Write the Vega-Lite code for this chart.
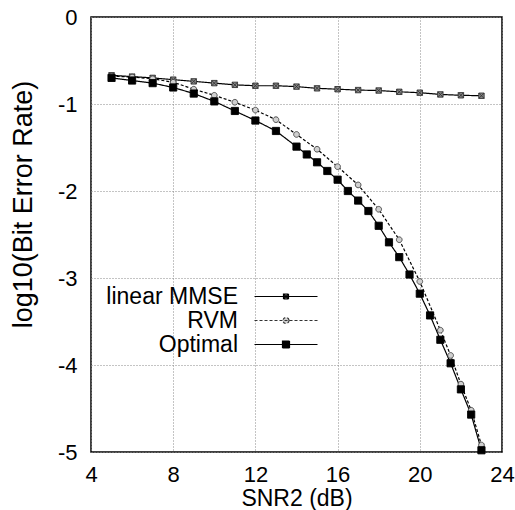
{
  "$schema": "https://vega.github.io/schema/vega-lite/v6.json",
  "width": 411,
  "height": 435,
  "autosize": {"type": "none"},
  "padding": {"left": 91, "top": 17, "right": 13, "bottom": 58},
  "background": "white",
  "config": {
    "view": {"stroke": "black", "strokeWidth": 1.5},
    "font": "Liberation Sans"
  },
  "data": {
    "values": [
      {"series": "linear MMSE", "snr": 5, "ber": -0.67},
      {"series": "linear MMSE", "snr": 6, "ber": -0.685},
      {"series": "linear MMSE", "snr": 7, "ber": -0.7},
      {"series": "linear MMSE", "snr": 8, "ber": -0.72},
      {"series": "linear MMSE", "snr": 9, "ber": -0.74},
      {"series": "linear MMSE", "snr": 10, "ber": -0.76},
      {"series": "linear MMSE", "snr": 11, "ber": -0.78},
      {"series": "linear MMSE", "snr": 12, "ber": -0.79},
      {"series": "linear MMSE", "snr": 13, "ber": -0.79},
      {"series": "linear MMSE", "snr": 14, "ber": -0.8},
      {"series": "linear MMSE", "snr": 15, "ber": -0.82},
      {"series": "linear MMSE", "snr": 16, "ber": -0.83},
      {"series": "linear MMSE", "snr": 17, "ber": -0.84},
      {"series": "linear MMSE", "snr": 18, "ber": -0.845},
      {"series": "linear MMSE", "snr": 19, "ber": -0.86},
      {"series": "linear MMSE", "snr": 20, "ber": -0.87},
      {"series": "linear MMSE", "snr": 21, "ber": -0.89},
      {"series": "linear MMSE", "snr": 22, "ber": -0.9},
      {"series": "linear MMSE", "snr": 23, "ber": -0.905},
      {"series": "RVM", "snr": 5, "ber": -0.68},
      {"series": "RVM", "snr": 6, "ber": -0.69},
      {"series": "RVM", "snr": 7, "ber": -0.71},
      {"series": "RVM", "snr": 8, "ber": -0.75},
      {"series": "RVM", "snr": 9, "ber": -0.83},
      {"series": "RVM", "snr": 10, "ber": -0.9},
      {"series": "RVM", "snr": 11, "ber": -0.98},
      {"series": "RVM", "snr": 12, "ber": -1.07},
      {"series": "RVM", "snr": 13, "ber": -1.18},
      {"series": "RVM", "snr": 14, "ber": -1.35},
      {"series": "RVM", "snr": 15, "ber": -1.52},
      {"series": "RVM", "snr": 16, "ber": -1.72},
      {"series": "RVM", "snr": 17, "ber": -1.93},
      {"series": "RVM", "snr": 18, "ber": -2.21},
      {"series": "RVM", "snr": 19, "ber": -2.56},
      {"series": "RVM", "snr": 20, "ber": -3.04},
      {"series": "RVM", "snr": 21, "ber": -3.6},
      {"series": "RVM", "snr": 21.5, "ber": -3.89},
      {"series": "RVM", "snr": 22, "ber": -4.22},
      {"series": "RVM", "snr": 22.5, "ber": -4.52},
      {"series": "RVM", "snr": 23, "ber": -4.92},
      {"series": "Optimal", "snr": 5, "ber": -0.7},
      {"series": "Optimal", "snr": 6, "ber": -0.73},
      {"series": "Optimal", "snr": 7, "ber": -0.76},
      {"series": "Optimal", "snr": 8, "ber": -0.81},
      {"series": "Optimal", "snr": 9, "ber": -0.88},
      {"series": "Optimal", "snr": 10, "ber": -0.97},
      {"series": "Optimal", "snr": 11, "ber": -1.08},
      {"series": "Optimal", "snr": 12, "ber": -1.19},
      {"series": "Optimal", "snr": 13, "ber": -1.31},
      {"series": "Optimal", "snr": 14, "ber": -1.49},
      {"series": "Optimal", "snr": 14.5, "ber": -1.58},
      {"series": "Optimal", "snr": 15, "ber": -1.67},
      {"series": "Optimal", "snr": 15.5, "ber": -1.77},
      {"series": "Optimal", "snr": 16, "ber": -1.87},
      {"series": "Optimal", "snr": 16.5, "ber": -2.0},
      {"series": "Optimal", "snr": 17, "ber": -2.11},
      {"series": "Optimal", "snr": 17.5, "ber": -2.23},
      {"series": "Optimal", "snr": 18, "ber": -2.4},
      {"series": "Optimal", "snr": 18.5, "ber": -2.59},
      {"series": "Optimal", "snr": 19, "ber": -2.76},
      {"series": "Optimal", "snr": 19.5, "ber": -2.96},
      {"series": "Optimal", "snr": 20, "ber": -3.18},
      {"series": "Optimal", "snr": 20.5, "ber": -3.43},
      {"series": "Optimal", "snr": 21, "ber": -3.71},
      {"series": "Optimal", "snr": 21.5, "ber": -3.98},
      {"series": "Optimal", "snr": 22, "ber": -4.28},
      {"series": "Optimal", "snr": 22.5, "ber": -4.57},
      {"series": "Optimal", "snr": 23, "ber": -4.98}
    ]
  },
  "encoding": {
    "x": {
      "field": "snr", "type": "quantitative",
      "scale": {"domain": [4, 24], "nice": false, "zero": false},
      "axis": {
        "title": "SNR2 (dB)", "values": [4, 8, 12, 16, 20, 24],
        "labelExpr": "datum.value + ''",
        "labelFont": "Liberation Sans", "labelFontSize": 22, "labelColor": "black",
        "labelPadding": 12, "ticks": false, "domain": false,
        "labelFlush": false,
        "titleFont": "Liberation Sans", "titleFontSize": 23, "titleFontWeight": "normal", "titleColor": "black",
        "titleY": 53, "titleBaseline": "alphabetic",
        "grid": true, "gridColor": "#888888", "gridDash": [1, 2], "gridWidth": 1, "gridOpacity": 1
      }
    },
    "y": {
      "field": "ber", "type": "quantitative",
      "scale": {"domain": [-5, 0], "nice": false, "zero": false},
      "axis": {
        "title": "log10(Bit Error Rate)", "values": [-5, -4, -3, -2, -1, 0],
        "labelExpr": "datum.value + ''",
        "labelFont": "Liberation Sans", "labelFontSize": 22, "labelColor": "black",
        "labelPadding": 14, "ticks": false, "domain": false, "labelFlush": false,
        "titleFont": "Liberation Sans", "titleFontSize": 27, "titleFontWeight": "normal", "titleColor": "black",
        "titleX": -60, "titleY": 187, "titleAngle": 270, "titleAlign": "center", "titleBaseline": "alphabetic",
        "grid": true, "gridColor": "#888888", "gridDash": [1, 2], "gridWidth": 1, "gridOpacity": 1
      }
    }
  },
  "layer": [
    {
      "mark": {"type": "line", "strokeWidth": 1.2, "color": "black"},
      "encoding": {
        "strokeDash": {
          "field": "series", "type": "nominal",
          "scale": {"domain": ["linear MMSE", "RVM", "Optimal"], "range": [[1, 0], [3, 2], [1, 0]]}
        }
      }
    },
    {
      "transform": [{"filter": "datum.series === 'linear MMSE'"}],
      "mark": {"type": "point", "filled": true, "size": 36, "strokeWidth": 0.9, "opacity": 1,
               "shape": "M-0.9,-0.9L0.9,0.9M0.9,-0.9L-0.9,0.9M-0.9,-0.9H0.9V0.9H-0.9Z",
               "fill": "#888888", "stroke": "#333333"}
    },
    {
      "transform": [{"filter": "datum.series === 'RVM'"}],
      "mark": {"type": "point", "filled": true, "size": 36, "strokeWidth": 0.9, "opacity": 1,
               "shape": "M0.95,0A0.95,0.95 0 1,1 -0.95,0A0.95,0.95 0 1,1 0.95,0Z",
               "fill": "#d0d0d0", "stroke": "#444444"}
    },
    {
      "transform": [{"filter": "datum.series === 'Optimal'"}],
      "mark": {"type": "point", "filled": true, "size": 36, "strokeWidth": 0.9, "opacity": 1,
               "shape": "M-1.2,-1.2H1.2V1.2H-1.2Z",
               "fill": "black", "stroke": "black"}
    },
    {
      "transform": [{"filter": "false"}],
      "mark": {"type": "point", "filled": true, "size": 100, "strokeWidth": 1.2, "opacity": 1},
      "encoding": {
        "shape": {
          "field": "series", "type": "nominal",
          "scale": {"domain": ["linear MMSE", "RVM", "Optimal"], "range": [
            "M-6.3,0H6.3M-0.5,-0.5L0.5,0.5M0.5,-0.5L-0.5,0.5M-0.5,-0.5H0.5V0.5H-0.5Z",
            "M-6.3,0H6.3M0.6,0A0.6,0.6 0 1,1 -0.6,0A0.6,0.6 0 1,1 0.6,0Z",
            "M-6.3,0H6.3M-0.7,-0.7H0.7V0.7H-0.7Z"
          ]},
          "legend": {
            "title": null, "orient": "none", "legendX": 181.5, "legendY": 266, "direction": "vertical",
            "labelFont": "Liberation Sans", "labelFontSize": 23, "labelColor": "black",
            "labelAlign": "right", "labelOffset": -59.5, "labelLimit": 300,
            "symbolSize": 100, "symbolStrokeWidth": 1.2, "symbolOpacity": 1,
            "rowPadding": -2, "padding": 2, "fillColor": "white"
          }
        },
        "fill": {
          "field": "series", "type": "nominal",
          "scale": {"domain": ["linear MMSE", "RVM", "Optimal"], "range": ["#888888", "#d0d0d0", "black"]}
        },
        "stroke": {
          "field": "series", "type": "nominal",
          "scale": {"domain": ["linear MMSE", "RVM", "Optimal"], "range": ["black", "#333333", "black"]}
        },
        "strokeDash": {
          "field": "series", "type": "nominal"
        }
      }
    }
  ]
}
